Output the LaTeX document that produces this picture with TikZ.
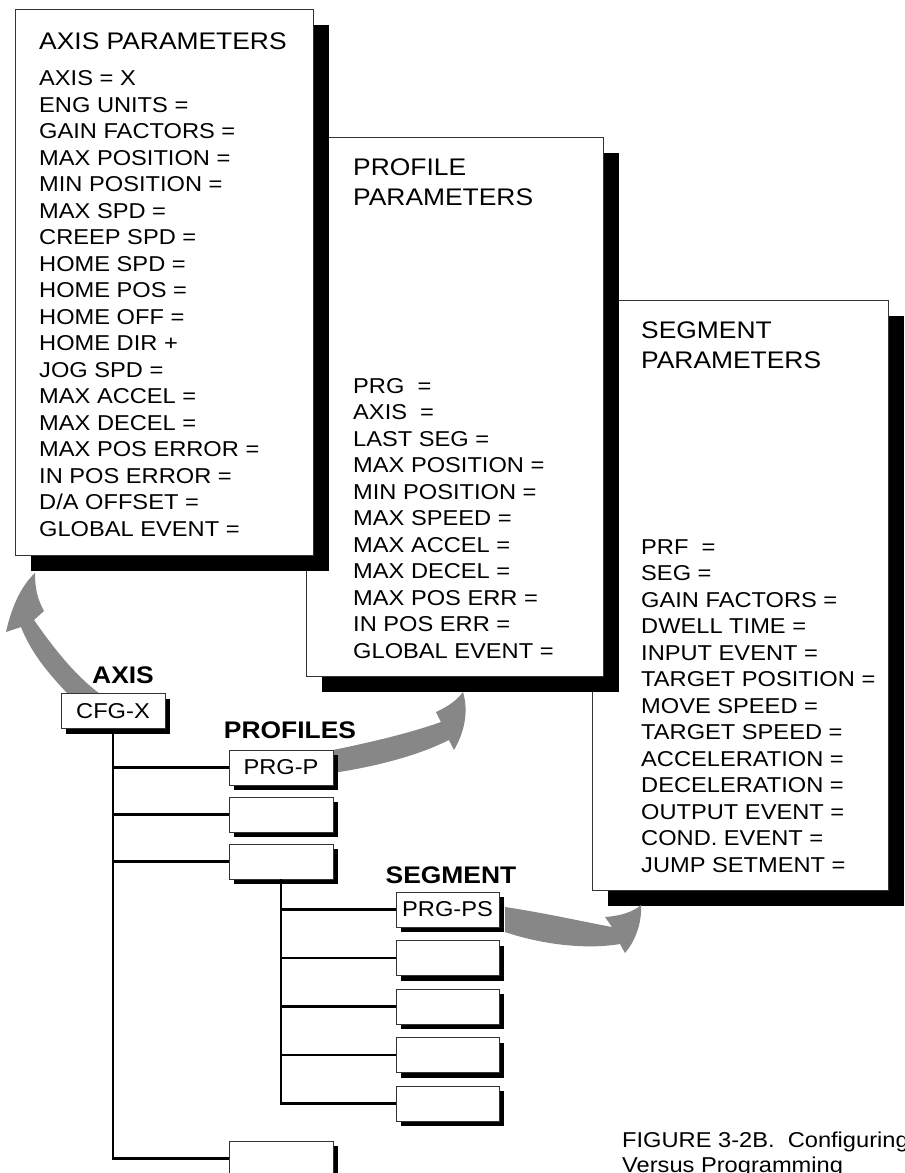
\documentclass[tikz,border=0pt]{standalone}
\usepackage{fontspec}
\setmainfont{Liberation Sans}[FakeStretch=1.1]
\usetikzlibrary{shadows, positioning}
\definecolor{flowgray}{gray}{0.53}

\begin{document}
\begin{tikzpicture}[x=1pt, y=-1pt,
	panel/.style={draw=black!80, line width=0.8pt, fill=white, anchor=north west, inner sep=0pt,
		drop shadow={fill=black, opacity=1, shadow xshift=16pt, shadow yshift=-16pt}},
	tagbox/.style={draw=black!80, line width=0.8pt, fill=white, minimum width=104pt, minimum height=35pt,
		inner sep=0pt, font=\fontsize{21.5}{26}\selectfont,
		drop shadow={fill=black, opacity=1, shadow xshift=5pt, shadow yshift=-5pt}},
	row/.style={anchor=base west, inner sep=0pt, font=\fontsize{21.5}{26}\selectfont},
	head/.style={anchor=base west, inner sep=0pt, font=\fontsize{24}{30}\selectfont},
	lbl/.style={anchor=base, inner sep=0pt, font=\fontsize{24}{30}\bfseries},
	tree/.style={line width=2.4pt},
	flow/.style={fill=flowgray}]
	\useasboundingbox (0,0) rectangle (905,1173);
	% segment parameters (bottom of the stack)
	\node[panel, minimum width=296pt, minimum height=590pt] (segpar) at (592,300) {};
	\node[head] (seghd1) at (641,338) {SEGMENT};
	\node[head] (seghd2) at (641,368) {PARAMETERS};
	\foreach \txt [count=\i from 0] in {PRF\ \ =, SEG =, GAIN FACTORS =, DWELL TIME =,
		INPUT EVENT =, TARGET POSITION =, MOVE SPEED =, TARGET SPEED =, ACCELERATION =,
		DECELERATION =, OUTPUT EVENT =, COND. EVENT =, JUMP SETMENT =}
	\node[row] (sp\i) at ({641},{554+\i*26.5}) {\txt};
	% profile parameters
	\node[panel, minimum width=297pt, minimum height=539pt] (prfpar) at (306,137) {};
	\node[head] (prfhd1) at (353,175) {PROFILE};
	\node[head] (prfhd2) at (353,205) {PARAMETERS};
	\foreach \txt [count=\i from 0] in {PRG\ \ =, AXIS\ \ =, LAST SEG =, MAX POSITION =,
		MIN POSITION =, MAX SPEED =, MAX ACCEL =, MAX DECEL =, MAX POS ERR =,
		IN POS ERR =, GLOBAL EVENT =}
	\node[row] (pp\i) at ({353},{393+\i*26.5}) {\txt};
	% axis parameters (top of the stack)
	\node[panel, minimum width=298pt, minimum height=546pt] (axpar) at (15,9) {};
	\node[head] (axhd) at (39,49) {AXIS PARAMETERS};
	\foreach \txt [count=\i from 0] in {AXIS = X, ENG UNITS =, GAIN FACTORS =, MAX POSITION =,
		MIN POSITION =, MAX SPD =, CREEP SPD =, HOME SPD =, HOME POS =, HOME OFF =,
		HOME DIR +, JOG SPD =, MAX ACCEL =, MAX DECEL =, MAX POS ERROR =,
		IN POS ERROR =, D/A OFFSET =, GLOBAL EVENT =}
	\node[row] (ap\i) at ({39},{85.5+\i*26.5}) {\txt};
	% gray flow arrows
	\fill[flow] (68,694) .. controls (45,670) and (30,650) .. (21,627) -- (6,632)
	.. controls (12,605) and (22,585) .. (35,573)
	.. controls (35,590) and (38,600) .. (44,611) -- (34,620)
	.. controls (55,650) and (75,675) .. (100,694) -- cycle;
	\fill[flow] (333,750) .. controls (372,742) and (410,733) .. (441,722) -- (436,712)
	.. controls (449,706) and (457,700) .. (463,692)
	.. controls (469,712) and (464,733) .. (454,750) -- (449,740)
	.. controls (415,757) and (372,767) .. (333,773) -- cycle;
	\fill[flow] (505,907) .. controls (545,913) and (585,922) .. (612,927) -- (605,917)
	.. controls (620,916) and (633,912) .. (641,905)
	.. controls (642,922) and (636,940) .. (625,953) -- (620,944)
	.. controls (585,950) and (540,944) .. (505,932) -- cycle;
	% axis, profiles, segments
	\node[tagbox] (cfg) at (113,711) {CFG-X};
	\node[lbl] (axlbl) at (123,683) {AXIS};
	\node[tagbox] (prf0) at (281,767.5) {PRG-P};
	\node[tagbox] (prf1) at (281,814.5) {};
	\node[tagbox] (prf2) at (281,861.5) {};
	\node[tagbox] (prf3) at (281,1158.5) {};
	\node[lbl] (prflbl) at (290,738) {PROFILES};
	\node[tagbox, minimum width=103pt] (seg0) at (447.5,909.5) {PRG-PS};
	\foreach \k in {1,2,3,4}
	\node[tagbox, minimum width=103pt] (seg\k) at ({447.5},{909.5+\k*48.5}) {};
	\node[lbl] (seglbl) at (451,883) {SEGMENT};
	\foreach \k in {0,1,2,3}
	\draw[tree] (cfg.south) |- (prf\k.west);
	\foreach \k in {0,1,2,3,4}
	\draw[tree] (prf2.south) |- (seg\k.west);
	% caption
	\node[row] (cap1) at (622,1147) {FIGURE 3-2B.\ \ Configuring};
	\node[row] (cap2) at (622,1172) {Versus Programming};
\end{tikzpicture}
\end{document}
